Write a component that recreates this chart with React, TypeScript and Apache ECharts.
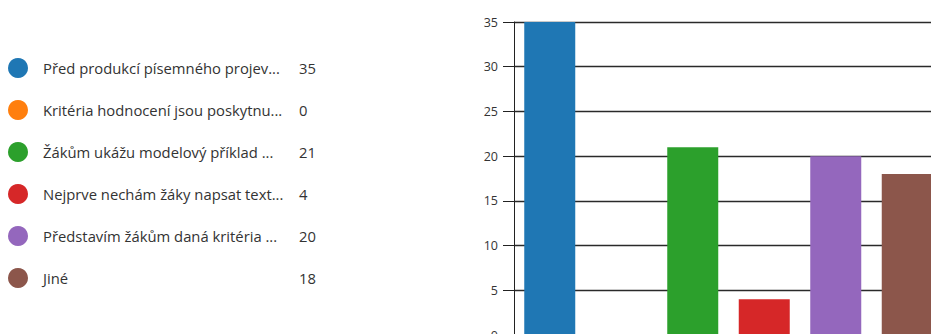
import React, { useEffect, useRef } from "react";
import * as echarts from "echarts";

// Answer options (shortened as shown in the legend) and their counts
const categories = [
  "Před produkcí písemného projev...",
  "Kritéria hodnocení jsou poskytnu...",
  "Žákům ukážu modelový příklad ...",
  "Nejprve nechám žáky napsat text...",
  "Představím žákům daná kritéria ...",
  "Jiné",
];
const counts = [35, 0, 21, 4, 20, 18];
const colors = ["#1f77b4", "#ff7f0e", "#2ca02c", "#d62728", "#9467bd", "#8c564b"];
const yTicks = { min: 0, max: 35, interval: 5 };

const FONT = "'Open Sans', 'Noto Sans', sans-serif";

export default function App() {
  const ref = useRef<HTMLDivElement>(null);

  useEffect(() => {
    if (!ref.current) return;
    const chart = echarts.init(ref.current, undefined, { renderer: "svg" });

    // one series per option, stacked so each bar sits centred in its own slot
    const series = categories.map((name, i) => ({
      name,
      type: "bar",
      stack: "all",
      barWidth: 51,
      itemStyle: { color: colors[i] },
      data: categories.map((_, j) => (j === i ? counts[i] : "-")),
    }));

    chart.setOption({
      animation: false,
      textStyle: { fontFamily: FONT },
      legend: {
        orient: "vertical",
        left: 8,
        top: 58,
        padding: 0,
        icon: "circle",
        itemWidth: 20,
        itemHeight: 20,
        itemGap: 22,
        selectedMode: false,
        data: categories,
        formatter: (name: string) => {
          const i = categories.indexOf(name);
          return `{n|${name}}{v|${counts[i]}}`;
        },
        textStyle: {
          rich: {
            n: { width: 256, padding: [0, 0, 0, 10], fontSize: 14.8, color: "#333", fontFamily: FONT },
            v: { fontSize: 14.8, color: "#333", fontFamily: FONT },
          },
        },
      },
      // plot area runs past the visible frame on the right and bottom
      grid: { left: 514, top: 22, width: 429, height: 313, containLabel: false },
      xAxis: {
        type: "category",
        data: categories,
        axisLine: { show: false },
        axisTick: { show: false },
        axisLabel: { show: false },
      },
      yAxis: {
        type: "value",
        min: yTicks.min,
        max: yTicks.max,
        interval: yTicks.interval,
        axisLine: { show: true, lineStyle: { color: "#222", width: 1 } },
        axisTick: { show: true, length: 11, lineStyle: { color: "#222" } },
        axisLabel: { margin: 16, fontSize: 12.5, color: "#333" },
        splitLine: { show: true, lineStyle: { color: "#2a2a2a", width: 1.3 } },
      },
      series,
    });

    return () => chart.dispose();
  }, []);

  return (
    <div
      style={{
        position: "fixed",
        left: 0,
        top: 0,
        width: 931,
        height: 334,
        overflow: "hidden",
        background: "#fff",
      }}
    >
      <div ref={ref} style={{ width: 960, height: 350 }} />
    </div>
  );
}
